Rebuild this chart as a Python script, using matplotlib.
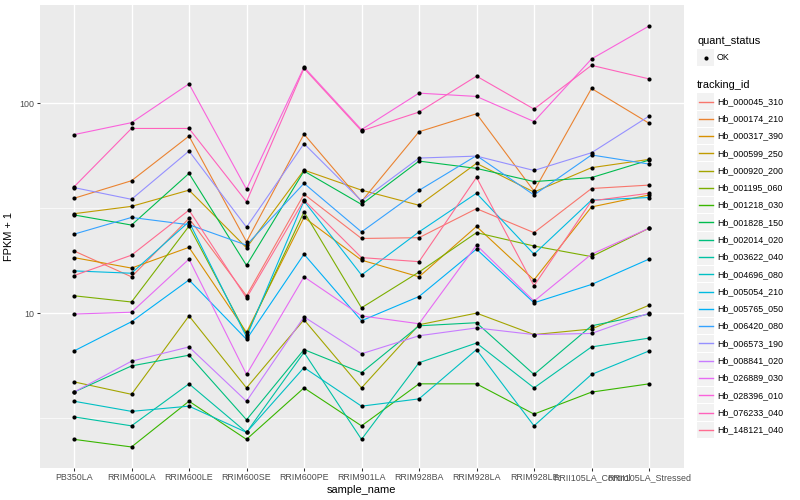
import numpy as np
import matplotlib
matplotlib.use("Agg")
import matplotlib.pyplot as plt
from matplotlib.ticker import FixedLocator, NullFormatter, FixedFormatter
from matplotlib.patches import Rectangle
from matplotlib.lines import Line2D

plt.rcParams['font.family'] = ['Liberation Sans', 'DejaVu Sans']

samples = ["PB350LA", "RRIM600LA", "RRIM600LE", "RRIM600SE", "RRIM600PE",
           "RRIM901LA", "RRIM928BA", "RRIM928LA", "RRIM928LE",
           "RRII105LA_Control", "RRII105LA_Stressed"]

# FPKM + 1 per gene, one value per sample
hb_000045_310 = [19.8, 14.9, 28.3, 12.1, 36.9, 22.7, 22.9, 31.5, 24.2, 39.3, 40.8]
hb_000174_210 = [35.3, 42.8, 69.9, 21.9, 71.4, 34.1, 73.3, 89.3, 38.2, 117.9, 80.5]
hb_000317_390 = [18.4, 16.4, 20.6, 8.1, 28.6, 17.9, 14.9, 25.9, 14.4, 32.1, 36.6]
hb_000599_250 = [29.8, 32.3, 38.6, 20.5, 48.1, 38.6, 32.7, 51.8, 37.8, 49.4, 54.1]
hb_000920_200 = [4.7, 4.1, 9.7, 4.4, 9.3, 4.4, 8.8, 10.0, 7.9, 8.4, 10.9]
hb_001195_060 = [12.1, 11.3, 26.0, 7.9, 30.4, 10.6, 15.7, 24.2, 20.9, 18.6, 25.4]
hb_001218_030 = [2.5, 2.3, 3.8, 2.5, 4.4, 2.9, 4.6, 4.6, 3.3, 4.2, 4.6]
hb_001828_150 = [29.4, 26.3, 46.4, 16.9, 47.6, 33.0, 53.1, 49.0, 42.4, 44.3, 53.7]
hb_002014_020 = [4.2, 5.6, 6.3, 3.1, 6.7, 5.2, 8.7, 9.0, 5.1, 8.7, 9.9]
hb_003622_040 = [3.2, 2.9, 4.6, 2.7, 6.5, 2.5, 5.8, 7.2, 4.4, 6.9, 7.6]
hb_004696_080 = [3.8, 3.4, 3.6, 2.7, 5.5, 3.6, 3.9, 6.7, 2.9, 5.1, 6.6]
hb_005054_210 = [15.9, 15.5, 27.3, 7.7, 34.3, 15.2, 24.4, 37.3, 19.1, 34.6, 35.6]
hb_005765_050 = [6.6, 9.1, 14.4, 7.5, 19.1, 9.2, 12.0, 20.2, 11.2, 13.7, 18.1]
hb_006420_080 = [23.8, 28.6, 26.4, 21.1, 41.6, 24.4, 38.5, 56.4, 36.6, 56.8, 51.4]
hb_006573_190 = [39.7, 34.9, 59.3, 25.7, 64.3, 34.3, 54.9, 56.1, 47.9, 58.2, 87.0]
hb_008841_020 = [4.2, 5.9, 6.9, 3.8, 9.6, 6.4, 7.8, 8.5, 7.9, 8.0, 10.0]
hb_026889_030 = [9.9, 10.1, 18.1, 5.1, 14.9, 9.7, 8.9, 21.1, 11.4, 19.1, 25.4]
hb_028396_010 = [71, 81, 124, 39, 149, 75, 112, 108, 82, 163, 234]
hb_076233_040 = [40, 76, 76, 34, 147, 74, 91, 135, 94, 152, 131]
hb_148121_040 = [15.1, 18.9, 31.0, 11.8, 34.6, 18.4, 17.6, 44.4, 13.5, 34.3, 37.3]

tracking_ids = ["Hb_000045_310", "Hb_000174_210", "Hb_000317_390", "Hb_000599_250",
                "Hb_000920_200", "Hb_001195_060", "Hb_001218_030", "Hb_001828_150",
                "Hb_002014_020", "Hb_003622_040", "Hb_004696_080", "Hb_005054_210",
                "Hb_005765_050", "Hb_006420_080", "Hb_006573_190", "Hb_008841_020",
                "Hb_026889_030", "Hb_028396_010", "Hb_076233_040", "Hb_148121_040"]
series = [hb_000045_310, hb_000174_210, hb_000317_390, hb_000599_250, hb_000920_200,
          hb_001195_060, hb_001218_030, hb_001828_150, hb_002014_020, hb_003622_040,
          hb_004696_080, hb_005054_210, hb_005765_050, hb_006420_080, hb_006573_190,
          hb_008841_020, hb_026889_030, hb_028396_010, hb_076233_040, hb_148121_040]

# ggplot2 default hue palette for 20 levels
colors = ["#F8766D", "#EA8331", "#D89000", "#C09B00", "#A3A500", "#7CAE00",
          "#39B600", "#00BB4E", "#00BF7D", "#00C1A3", "#00BFC4", "#00BAE0",
          "#00B0F6", "#35A2FF", "#9590FF", "#C77CFF", "#E76BF3", "#FA62DB",
          "#FF62BC", "#FF6C91"]

W, H = 800, 500
fig = plt.figure(figsize=(8, 5), dpi=100)
ax = fig.add_axes([39.5 / W, 1 - 468 / H, (683.5 - 39.5) / W, (468 - 5) / H])
ax.set_facecolor("#EBEBEB")
for s in ax.spines.values():
    s.set_visible(False)

x = np.arange(len(samples))
for vals, col in zip(series, colors):
    ax.plot(x, vals, color=col, lw=0.8, zorder=2, solid_joinstyle="round")
for vals in series:
    ax.plot(x, vals, "o", color="black", ms=3.0, mew=0, zorder=3)

ax.set_yscale("log")
allv = np.log10(np.concatenate([np.array(v, float) for v in series]))
lo, hi = allv.min(), allv.max()
pad = 0.05 * (hi - lo)
ax.set_ylim(10 ** (lo - pad), 10 ** (hi + pad))
ax.set_xlim(-0.6, len(samples) - 0.4)

ax.yaxis.set_major_locator(FixedLocator([10, 100]))
ax.yaxis.set_major_formatter(FixedFormatter(["10", "100"]))
ax.yaxis.set_minor_locator(FixedLocator([10 ** 0.5, 10 ** 1.5, 10 ** 2.5]))
ax.yaxis.set_minor_formatter(NullFormatter())
ax.set_xticks(x)
ax.set_xticklabels(samples)

ax.grid(True, which="major", color="white", lw=1.0, zorder=0)
ax.grid(True, which="minor", axis="y", color="white", lw=0.5, zorder=0)
ax.set_axisbelow(True)
ax.tick_params(which="major", length=2.0, width=0.75, color="#333333",
               labelsize=6.4, labelcolor="#4D4D4D", pad=1.6)
ax.tick_params(which="minor", length=0)

ax.set_xlabel("sample_name", fontsize=7.9, labelpad=2)
ax.set_ylabel("FPKM + 1", fontsize=7.9, labelpad=4)


def fx(px):
    return px / W


def fy(py):
    return 1 - py / H


# legends (ggplot style), drawn in figure pixel space
key_x0, key_w, key_h = 697, 17, 17.28
fig.text(fx(697), fy(40.5), "quant_status", fontsize=7.9, va="center", ha="left")
fig.patches.append(Rectangle((fx(key_x0), fy(57.5 + key_h / 2 - 0.5)), key_w / W, (key_h - 1) / H,
                             transform=fig.transFigure, facecolor="#F2F2F2", edgecolor="none"))
fig.lines.append(Line2D([fx(key_x0 + key_w / 2)], [fy(57.5)], transform=fig.transFigure,
                        marker="o", ms=3.0, color="black", mew=0))
fig.text(fx(717), fy(57.5), "OK", fontsize=6.4, va="center", ha="left")

fig.text(fx(697), fy(85), "tracking_id", fontsize=7.9, va="center", ha="left")
for i, (name, col) in enumerate(zip(tracking_ids, colors)):
    cy = 101.5 + key_h * i
    fig.patches.append(Rectangle((fx(key_x0), fy(cy + key_h / 2 - 0.5)), key_w / W, (key_h - 1) / H,
                                 transform=fig.transFigure, facecolor="#F2F2F2", edgecolor="none"))
    fig.lines.append(Line2D([fx(key_x0 + 1.5), fx(key_x0 + key_w - 1.5)], [fy(cy), fy(cy)],
                            transform=fig.transFigure, color=col, lw=1.0))
    fig.text(fx(717), fy(cy), name, fontsize=6.4, va="center", ha="left")

fig.savefig("out.png", dpi=100)
